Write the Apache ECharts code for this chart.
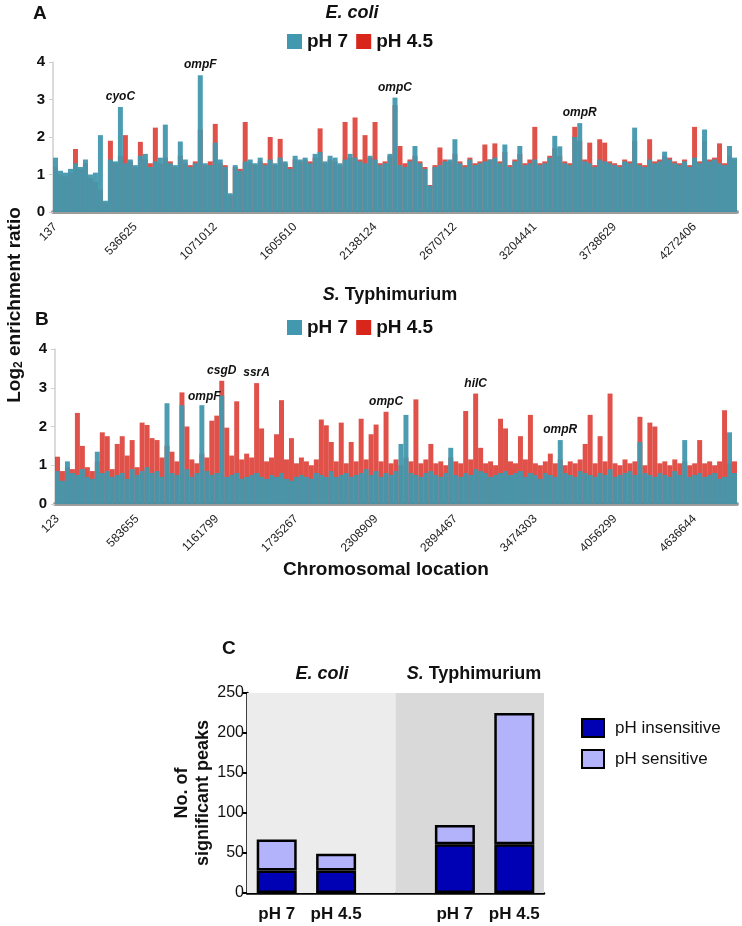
<!DOCTYPE html>
<html>
<head>
<meta charset="utf-8">
<script src="https://cdn.jsdelivr.net/npm/echarts@6/dist/echarts.min.js"></script>
<style>
html,body{margin:0;padding:0;background:#fff}
#chart{width:742px;height:926px}
</style>
</head>
<body>
<div id="chart"></div>
<script>
'use strict';

//字体
var SANS = "'Liberation Sans', Arial, sans-serif";
var NARROW = "'Liberation Sans Narrow', 'Arial Narrow', 'Liberation Sans', sans-serif";

//每隔多少个柱显示一个位置标签
var STEP = 16;

// A: E. coli
var ecoliTicks = ['137', '536625', '1071012', '1605610', '2138124', '2670712', '3204441', '3738629', '4272406'];
var ecoliPH7 = [
  1.45, 1.10, 1.05, 1.15, 1.30, 1.20, 1.40, 1.00, 1.05, 2.05,
  0.30, 1.40, 1.35, 2.80, 1.30, 1.40, 1.25, 1.50, 1.55, 1.20,
  1.35, 1.45, 2.33, 1.30, 1.25, 1.88, 1.40, 1.20, 1.30, 3.65,
  1.30, 1.25, 1.85, 1.40, 1.20, 0.50, 1.25, 1.10, 1.35, 1.40,
  1.30, 1.45, 1.25, 1.40, 1.30, 1.45, 1.35, 1.15, 1.50, 1.40,
  1.45, 1.30, 1.55, 1.60, 1.35, 1.50, 1.45, 1.30, 1.40, 1.55,
  1.45, 1.35, 1.30, 1.50, 1.40, 1.25, 1.30, 1.55, 3.05, 1.25,
  1.20, 1.35, 1.76, 1.30, 1.15, 0.70, 1.20, 1.25, 1.35, 1.40,
  1.94, 1.30, 1.20, 1.40, 1.25, 1.30, 1.35, 1.40, 1.45, 1.30,
  1.80, 1.20, 1.35, 1.76, 1.25, 1.30, 1.40, 1.25, 1.30, 1.45,
  2.03, 1.75, 1.30, 1.25, 2.00, 2.37, 1.35, 1.30, 1.20, 1.40,
  1.35, 1.30, 1.25, 1.20, 1.35, 1.30, 2.25, 1.25, 1.20, 1.40,
  1.30, 1.35, 1.61, 1.40, 1.30, 1.25, 1.35, 1.20, 1.45, 1.30,
  2.20, 1.35, 1.40, 1.30, 1.25, 1.76, 1.45
];
var ecoliPH45 = [
  1.20, 1.00, 0.95, 1.05, 1.68, 1.15, 1.30, 0.90, 0.80, 0.60,
  0.25, 1.90, 1.30, 1.50, 2.05, 1.35, 1.20, 1.87, 1.40, 1.30,
  2.25, 1.30, 1.45, 1.35, 1.20, 1.50, 1.30, 1.25, 1.35, 2.20,
  1.25, 1.35, 2.35, 1.30, 1.25, 0.45, 1.20, 1.15, 2.40, 1.30,
  1.25, 1.35, 1.30, 2.00, 1.25, 1.95, 1.30, 1.20, 1.40, 1.35,
  1.40, 1.35, 1.45, 2.23, 1.30, 1.40, 1.35, 1.25, 2.40, 1.45,
  2.52, 1.40, 2.05, 1.45, 2.40, 1.30, 1.35, 1.50, 2.85, 1.76,
  1.30, 1.40, 1.50, 1.35, 1.20, 0.72, 1.25, 1.72, 1.40, 1.35,
  1.55, 1.35, 1.25, 1.45, 1.30, 1.35, 1.80, 1.40, 1.83, 1.35,
  1.60, 1.25, 1.40, 1.55, 1.30, 1.40, 2.27, 1.30, 1.35, 1.50,
  1.70, 1.50, 1.35, 1.30, 2.27, 1.90, 1.40, 1.85, 1.25, 1.94,
  1.85, 1.35, 1.30, 1.25, 1.40, 1.35, 1.90, 1.30, 1.25, 1.94,
  1.35, 1.40, 1.50, 1.45, 1.35, 1.30, 1.40, 1.25, 2.27, 1.35,
  1.90, 1.40, 1.45, 1.83, 1.30, 1.50, 1.40
];
var ecoliGenes = [
  {name: 'cyoC', idx: 13}, {name: 'ompF', idx: 29}, {name: 'ompC', idx: 68}, {name: 'ompR', idx: 105}
];

// B: S. Typhimurium
var salTicks = ['123', '583655', '1161799', '1735267', '2308909', '2894467', '3474303', '4056299', '4636644'];
var salPH7 = [
  0.85, 0.60, 1.10, 0.80, 0.75, 0.90, 0.70, 0.65, 1.35, 0.80,
  0.85, 0.70, 0.75, 0.80, 0.65, 0.90, 0.75, 0.85, 0.95, 0.80,
  0.85, 0.70, 2.60, 0.80, 0.75, 2.55, 0.90, 0.70, 0.80, 2.55,
  0.85, 0.75, 0.80, 2.80, 0.70, 0.75, 0.80, 0.65, 0.70, 0.75,
  0.80, 0.70, 0.65, 0.75, 0.70, 0.80, 0.65, 0.60, 0.70, 0.75,
  0.70, 0.65, 0.80, 0.75, 0.70, 0.85, 0.70, 0.75, 0.80, 0.70,
  0.75, 0.80, 0.90, 0.75, 0.85, 0.70, 0.80, 0.75, 0.85, 1.55,
  2.30, 0.80, 0.75, 0.70, 0.80, 0.85, 0.75, 0.70, 0.80, 1.45,
  0.75, 0.70, 0.80, 0.75, 0.90, 0.85, 0.80, 0.70, 0.75, 0.80,
  0.85, 0.75, 0.80, 0.85, 0.70, 0.80, 0.75, 0.65, 0.80, 0.75,
  0.70, 1.65, 0.80, 0.75, 0.70, 0.85, 0.80, 0.75, 0.70, 0.80,
  0.75, 0.90, 0.70, 0.75, 0.80, 0.85, 0.75, 1.60, 0.80, 0.75,
  0.70, 0.80, 0.75, 0.70, 0.85, 0.75, 1.65, 0.70, 0.75, 0.80,
  0.70, 0.75, 0.80, 0.65, 0.70, 1.85, 0.80
];
var salPH45 = [
  1.22, 0.85, 0.95, 0.90, 2.35, 1.50, 0.95, 0.85, 1.10, 1.85,
  1.75, 0.90, 1.55, 1.75, 1.25, 1.65, 0.95, 2.10, 2.04, 1.70,
  1.65, 1.20, 1.50, 1.35, 1.10, 2.88, 2.00, 1.15, 1.05, 1.30,
  1.20, 2.15, 2.28, 3.18, 1.97, 1.25, 2.65, 1.15, 1.30, 1.20,
  3.12, 1.95, 1.10, 1.20, 1.80, 2.68, 1.15, 1.70, 1.05, 1.20,
  1.10, 1.00, 1.15, 2.18, 2.03, 1.60, 1.10, 2.10, 1.05, 1.60,
  1.10, 2.20, 1.15, 1.80, 2.05, 1.10, 2.38, 1.05, 1.15, 1.00,
  1.20, 1.10, 2.70, 1.05, 1.15, 1.55, 1.05, 1.10, 1.00, 1.20,
  1.10, 1.05, 2.40, 1.15, 2.85, 1.45, 1.05, 1.10, 1.00, 2.20,
  1.95, 1.10, 1.05, 1.75, 1.15, 2.30, 1.05, 1.00, 1.10, 1.30,
  1.05, 1.15, 1.00, 1.10, 1.05, 1.15, 1.55, 2.30, 1.05, 1.75,
  1.10, 2.85, 1.05, 1.00, 1.15, 1.05, 1.10, 2.25, 1.00, 2.10,
  2.00, 1.05, 1.10, 1.00, 1.15, 1.05, 1.10, 1.00, 1.05, 1.65,
  1.05, 1.10, 1.00, 1.10, 2.42, 1.05, 1.10
];
var salGenes = [
  {name: 'ompF', idx: 25, side: 'right'}, {name: 'csgD', idx: 33}, {name: 'ssrA', idx: 40},
  {name: 'ompC', idx: 66}, {name: 'hilC', idx: 84}, {name: 'ompR', idx: 101}
];

// C: 显著峰数量
var peakGroups = ['pH 7', 'pH 4.5', '', 'pH 7', 'pH 4.5'];
var insensitive = [28, 28, '-', 61, 61];
var sensitive = [39, 21, '-', 24, 164];

var TEAL = '#4298ae';
var RED = '#d8261b';

//生成类别（只有标签位置有名称）
function buildCats(ticks, n) {
  var cats = [];
  for (var i = 0; i < n; i++) {
    cats.push(i % STEP === 0 && ticks[i / STEP] ? ticks[i / STEP] : '');
  }
  return cats;
}

//基因标注
function geneMarks(genes, a, b) {
  return genes.map(function (g) {
    var item = {
      name: g.name,
      coord: [g.idx, Math.max(a[g.idx], b[g.idx])]
    };
    if (g.side === 'right') {
      item.label = {position: 'right', distance: 6, offset: [0, 4]};
    }
    return item;
  });
}

function genomeX(grid, ticks, n) {
  return {
    type: 'category', gridIndex: grid, data: buildCats(ticks, n),
    boundaryGap: true,
    axisLine: {lineStyle: {color: '#9c9c9c', width: 4}},
    axisTick: {show: false},
    axisLabel: {interval: STEP - 1, rotate: 45, fontSize: 12, color: '#222', margin: 13, fontFamily: SANS}
  };
}

function genomeY(grid) {
  return {
    type: 'value', gridIndex: grid, min: 0, max: 4, interval: 1,
    axisLine: {show: true, lineStyle: {color: '#cfcfcf', width: 1.5}},
    axisTick: {show: true, length: 4, lineStyle: {color: '#cfcfcf'}},
    splitLine: {show: false},
    axisLabel: {fontSize: 15, fontWeight: 'bold', color: '#111', margin: 8, fontFamily: SANS}
  };
}

function genomeSeries(axis, ph7, ph45, genes) {
  return [{
    name: 'pH 4.5', type: 'bar', xAxisIndex: axis, yAxisIndex: axis,
    data: ph45, barGap: '-100%', barCategoryGap: '0%',
    itemStyle: {color: 'rgba(216,38,27,0.8)'},
    silent: true, z: 2
  }, {
    name: 'pH 7', type: 'bar', xAxisIndex: axis, yAxisIndex: axis,
    data: ph7, barGap: '-100%', barCategoryGap: '0%',
    itemStyle: {color: TEAL, opacity: 0.95},
    silent: true, z: 3,
    markPoint: {
      symbol: 'rect', symbolSize: 0, silent: true,
      label: {
        show: true, position: 'top', distance: 4, formatter: '{b}',
        fontSize: 12, fontWeight: 'bold', fontStyle: 'italic', color: '#111', fontFamily: SANS
      },
      data: geneMarks(genes, ph7, ph45)
    }
  }];
}

var chart = echarts.init(document.getElementById('chart'));

var boldT = {fontSize: 19, fontWeight: 'bold', color: '#111', fontFamily: SANS};

var option = {
  backgroundColor: '#fff',
  animation: false,
  color: [RED, TEAL],
  title: [
    {text: 'A', left: 33, top: 4, padding: 0, textStyle: boldT},
    {text: 'E. coli', left: 352, top: 4, padding: 0, textAlign: 'center',
      textStyle: {fontSize: 18, fontWeight: 'bold', fontStyle: 'italic', color: '#111', fontFamily: SANS}},
    {text: 'B', left: 35, top: 310, padding: 0, textStyle: boldT},
    {text: '{i|S.} Typhimurium', left: 390, top: 286, padding: 0, textAlign: 'center',
      textStyle: {fontSize: 18, fontWeight: 'bold', color: '#111', fontFamily: SANS,
        rich: {i: {fontSize: 18, fontWeight: 'bold', fontStyle: 'italic', color: '#111', fontFamily: SANS}}}},
    {text: 'Chromosomal location', left: 386, top: 560, padding: 0, textAlign: 'center',
      textStyle: {fontSize: 19, fontWeight: 'bold', color: '#111', fontFamily: NARROW}},
    {text: 'C', left: 222, top: 639, padding: 0,
      textStyle: {fontSize: 19, fontWeight: 'bold', color: '#111', fontFamily: NARROW}},
    {text: 'E. coli', left: 322, top: 665, padding: 0, textAlign: 'center',
      textStyle: {fontSize: 18, fontWeight: 'bold', fontStyle: 'italic', color: '#111', fontFamily: NARROW}},
    {text: '{i|S.} Typhimurium', left: 474, top: 665, padding: 0, textAlign: 'center',
      textStyle: {fontSize: 18, fontWeight: 'bold', color: '#111', fontFamily: NARROW,
        rich: {i: {fontSize: 18, fontWeight: 'bold', fontStyle: 'italic', color: '#111', fontFamily: NARROW}}}}
  ],
  legend: [{
    data: [{name: 'pH 7', itemStyle: {color: TEAL, opacity: 1}}, {name: 'pH 4.5', itemStyle: {color: RED}}],
    left: 287, top: 32, padding: 0, itemGap: 8,
    icon: 'rect', itemWidth: 15, itemHeight: 15, selectedMode: false,
    textStyle: {fontSize: 19, fontWeight: 'bold', color: '#111', fontFamily: SANS}
  }, {
    data: [{name: 'pH 7', itemStyle: {color: TEAL, opacity: 1}}, {name: 'pH 4.5', itemStyle: {color: RED}}],
    left: 287, top: 318, padding: 0, itemGap: 8,
    icon: 'rect', itemWidth: 15, itemHeight: 15, selectedMode: false,
    textStyle: {fontSize: 19, fontWeight: 'bold', color: '#111', fontFamily: SANS}
  }, {
    data: ['pH insensitive', 'pH sensitive'], left: 581, top: 718, padding: 0, orient: 'vertical',
    itemGap: 11, icon: 'rect', itemWidth: 22, itemHeight: 18, selectedMode: false,
    textStyle: {fontSize: 17, color: '#111', fontFamily: NARROW, padding: [0, 0, 0, 6]}
  }],
  graphic: [{
    type: 'text', x: 15, y: 305, rotation: Math.PI / 2,
    style: {
      text: '{t|Log}{s|2}{t| enrichment ratio}',
      textAlign: 'center', textVerticalAlign: 'middle',
      rich: {
        t: {fontSize: 19, fontWeight: 'bold', fill: '#111', fontFamily: SANS},
        s: {fontSize: 12, fontWeight: 'bold', fill: '#111', fontFamily: SANS, verticalAlign: 'bottom', padding: [8, 0, 0, 0]}
      }
    }
  }],
  grid: [
    {left: 53, right: 5, top: 62, height: 150, outerBoundsMode: 'none'},
    {left: 55, right: 5, top: 349, height: 155, outerBoundsMode: 'none'},
    {left: 247, top: 693, width: 297, height: 200, outerBoundsMode: 'none'}
  ],
  xAxis: [
    genomeX(0, ecoliTicks, ecoliPH7.length),
    genomeX(1, salTicks, salPH7.length),
    {
      type: 'category', gridIndex: 2, data: peakGroups,
      axisLine: {lineStyle: {color: '#000', width: 2.5}},
      axisTick: {alignWithLabel: true, interval: 0, length: 7, lineStyle: {color: '#000', width: 2}},
      axisLabel: {interval: 0, fontSize: 17, fontWeight: 'bold', color: '#111', margin: 13, fontFamily: NARROW}
    },
    //背景分区用的辅助轴
    {type: 'value', gridIndex: 2, min: 0, max: 5, show: false}
  ],
  yAxis: [
    genomeY(0),
    genomeY(1),
    {
      type: 'value', gridIndex: 2, min: 0, max: 250, interval: 50,
      name: 'No. of\nsignificant peaks', nameLocation: 'middle', nameGap: 26, nameRotate: 90,
      nameTextStyle: {fontSize: 18, fontWeight: 'bold', color: '#111', fontFamily: SANS, lineHeight: 21},
      axisLine: {show: true, lineStyle: {color: '#000', width: 2.5}},
      axisTick: {show: true, length: 5, lineStyle: {color: '#000', width: 2}},
      splitLine: {show: false},
      axisLabel: {fontSize: 16, color: '#111', margin: 3, fontFamily: NARROW}
    }
  ],
  series: genomeSeries(0, ecoliPH7, ecoliPH45, ecoliGenes)
    .concat(genomeSeries(1, salPH7, salPH45, salGenes))
    .concat([{
      type: 'line', xAxisIndex: 3, yAxisIndex: 2, data: [], silent: true, z: 0,
      markArea: {
        silent: true,
        data: [
          [{xAxis: 0, yAxis: 0, itemStyle: {color: '#ececec'}}, {xAxis: 2.5, yAxis: 250}],
          [{xAxis: 2.5, yAxis: 0, itemStyle: {color: '#d9d9d9'}}, {xAxis: 5, yAxis: 250}]
        ]
      }
    }, {
      name: 'pH insensitive', type: 'bar', stack: 'c', xAxisIndex: 2, yAxisIndex: 2,
      data: insensitive, barWidth: 40,
      itemStyle: {color: '#0000b4', borderColor: '#000', borderWidth: 2.5}
    }, {
      name: 'pH sensitive', type: 'bar', stack: 'c', xAxisIndex: 2, yAxisIndex: 2,
      data: sensitive, barWidth: 40,
      itemStyle: {color: '#b3b3fb', borderColor: '#000', borderWidth: 2.5}
    }])
};

chart.setOption(option);
</script>
</body>
</html>
